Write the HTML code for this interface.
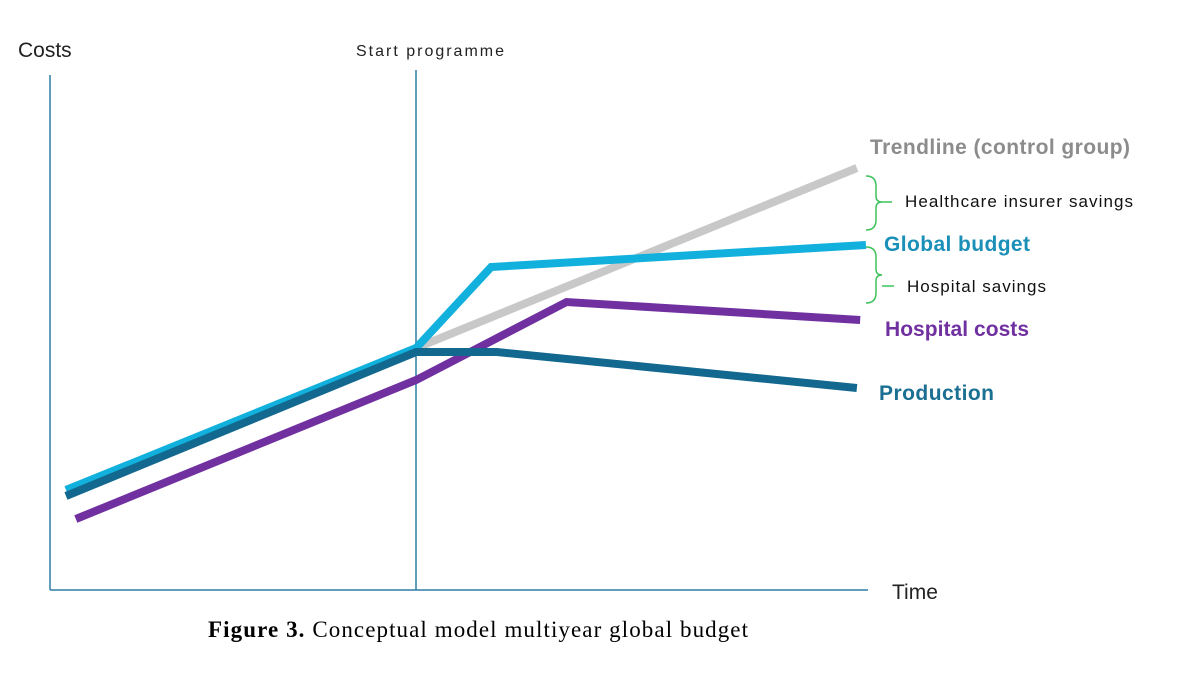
<!DOCTYPE html>
<html><head><meta charset="utf-8"><style>
body{margin:0;background:#fff;}
svg text{font-family:"Liberation Sans",sans-serif;}
</style></head><body>
<svg id="c" width="1200" height="675" viewBox="0 0 1200 675">
<line x1="50" y1="75" x2="50" y2="590" stroke="#2e7ea6" stroke-width="1.5"/>
<line x1="50" y1="590" x2="868" y2="590" stroke="#2e7ea6" stroke-width="1.5"/>
<line x1="416" y1="70" x2="416" y2="590" stroke="#2e7ea6" stroke-width="1.5"/>
<text x="18" y="57" font-size="21" fill="#222">Costs</text>
<text x="356" y="56" font-size="16" fill="#222" textLength="148">Start programme</text>
<text x="892" y="599" font-size="21" fill="#222">Time</text>
<g id="series"></g>
<path d="M866,176 q10,0 10,10 v10 q0,6 6,6 q-6,0 -6,6 v12 q0,10 -10,10" fill="none" stroke="#3cc25a" stroke-width="1.5"/>
<line x1="882" y1="202" x2="892" y2="202" stroke="#3cc25a" stroke-width="1.5"/>
<path d="M866,247 q10,0 10,10 v12 q0,6 6,6 q-6,0 -6,6 v12 q0,10 -10,10" fill="none" stroke="#3cc25a" stroke-width="1.5"/>
<line x1="882" y1="286" x2="894" y2="286" stroke="#3cc25a" stroke-width="1.5"/>
<text x="870" y="154" font-size="21" font-weight="bold" fill="#8c8c8c" textLength="260">Trendline (control group)</text>
<text x="905" y="207" font-size="17" fill="#111" textLength="228">Healthcare insurer savings</text>
<text x="884" y="251" font-size="21" font-weight="bold" fill="#1a8fb8" textLength="146">Global budget</text>
<text x="907" y="292" font-size="17" fill="#111" textLength="139">Hospital savings</text>
<text x="885" y="336" font-size="21" font-weight="bold" fill="#7030a0" textLength="144">Hospital costs</text>
<text x="879" y="400" font-size="21" font-weight="bold" fill="#1b6f92" textLength="115">Production</text>
<text x="208" y="637" font-size="23" fill="#000" textLength="540" style="font-family:'Liberation Serif',serif"><tspan font-weight="bold">Figure 3.</tspan> Conceptual model multiyear global budget</text>
</svg>
<script>
const trendT=[8.93,19.68];
const trendV=[48.4,84.4];
const globalT=[0.39,8.93,10.76,19.9];
const globalV=[20,48.4,64.6,69];
const productionT=[0.39,8.93,10.9,19.68];
const productionV=[18.8,47.6,47.6,40.4];
const hospitalT=[0.63,8.93,12.6,19.76];
const hospitalV=[14.2,42,57.6,54];
const xScale=t=>50+t*41;
const yScale=v=>590-v*5;
const g=document.getElementById('series');
function draw(ts,vs,color,name){
  const p=document.createElementNS('http://www.w3.org/2000/svg','polyline');
  p.setAttribute('points',ts.map((t,i)=>xScale(t)+','+yScale(vs[i])).join(' '));
  p.setAttribute('fill','none');p.setAttribute('stroke',color);p.setAttribute('stroke-width','8');
  p.setAttribute('stroke-linejoin','miter');
  
  
  g.appendChild(p);
}
draw(trendT,trendV,'#c8c8c8','trendline-series');
draw(hospitalT,hospitalV,'#7030a0','hospital-costs-series');
draw(globalT,globalV,'#12b0dc','global-budget-series');
draw(productionT,productionV,'#12688e','production-series');
</script>
</body></html>
